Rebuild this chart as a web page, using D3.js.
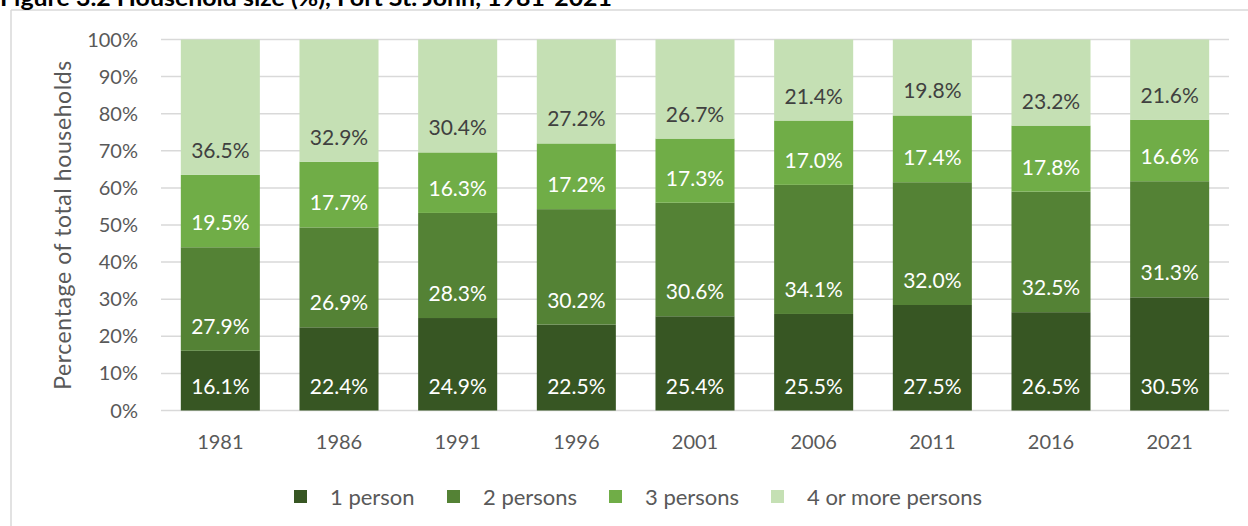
<!DOCTYPE html>
<html>
<head>
<meta charset="utf-8">
<script src="https://cdn.jsdelivr.net/npm/d3@7"></script>
<style>
  html, body { margin: 0; padding: 0; background: #fff; }
  svg { display: block; }
  text { font-family: Lato, "Open Sans", sans-serif; }
</style>
</head>
<body>
<svg id="chart" width="1248" height="526"></svg>
<script>
const title = "Figure 3.2 Household size (%), Fort St. John, 1981-2021";
const years = ["1981", "1986", "1991", "1996", "2001", "2006", "2011", "2016", "2021"];
const seriesNames = ["1 person", "2 persons", "3 persons", "4 or more persons"];
const onePerson    = [16.1, 22.4, 24.9, 22.5, 25.4, 25.5, 27.5, 26.5, 30.5];
const twoPersons   = [27.9, 26.9, 28.3, 30.2, 30.6, 34.1, 32.0, 32.5, 31.3];
const threePersons = [19.5, 17.7, 16.3, 17.2, 17.3, 17.0, 17.4, 17.8, 16.6];
const fourPlus     = [36.5, 32.9, 30.4, 27.2, 26.7, 21.4, 19.8, 23.2, 21.6];
const yTicks = [0, 0.1, 0.2, 0.3, 0.4, 0.5, 0.6, 0.7, 0.8, 0.9, 1.0];
const colors = ["#375623", "#548235", "#70AD47", "#C5E0B4"];
const labelColors = ["#ffffff", "#ffffff", "#ffffff", "#404040"];
const axisTitle = "Percentage of total households";

const svg = d3.select("#chart");
const W = 1248, H = 526;
const plot = { left: 161, right: 1229, top: 39.5, bottom: 410.5 };

const allSeries = [onePerson, twoPersons, threePersons, fourPlus];
const rows = years.map((y, i) => {
  const r = { year: y };
  seriesNames.forEach((s, k) => r[s] = allSeries[k][i]);
  return r;
});
const stacked = d3.stack().keys(seriesNames).offset(d3.stackOffsetExpand)(rows);

const gap = 0.334;
const x = d3.scaleBand().domain(years).range([plot.left, plot.right])
  .paddingInner(gap).paddingOuter(gap / 2);
const y = d3.scaleLinear().domain([0, 1]).range([plot.bottom, plot.top]);

// frame
svg.append("line").attr("x1", 11).attr("x2", 11).attr("y1", 10).attr("y2", H)
  .attr("stroke", "#d9d9d9").attr("stroke-width", 1.5);
svg.append("line").attr("x1", 11).attr("x2", W).attr("y1", 10).attr("y2", 10)
  .attr("stroke", "#d9d9d9").attr("stroke-width", 1.5);

// title (cropped at top, as in the reference)
svg.append("text").attr("x", 0).attr("y", 5.5)
  .attr("font-weight", "bold").attr("font-size", 22).attr("fill", "#000")
  .attr("textLength", 612).attr("lengthAdjust", "spacingAndGlyphs")
  .text(title);

// gridlines
svg.append("g").selectAll("line").data(yTicks).join("line")
  .attr("x1", plot.left).attr("x2", plot.right)
  .attr("y1", d => y(d)).attr("y2", d => y(d))
  .attr("stroke", "#d9d9d9").attr("stroke-width", 1.5);

// y tick labels
svg.append("g").selectAll("text").data(yTicks).join("text")
  .attr("x", 138).attr("y", d => y(d) + 7)
  .attr("text-anchor", "end").attr("font-size", 20).attr("fill", "#595959")
  .text(d => d3.format(".0%")(d));

// y axis title
svg.append("text")
  .attr("transform", `translate(71,${(57 + 393) / 2}) rotate(-90)`)
  .attr("text-anchor", "middle").attr("font-size", 23).attr("fill", "#595959")
  .attr("letter-spacing", 0.6)
  .text(axisTitle);

// bars
const layers = svg.append("g").selectAll("g").data(stacked).join("g")
  .attr("fill", (d, i) => colors[i]);
layers.selectAll("rect").data(d => d).join("rect")
  .attr("x", d => x(d.data.year))
  .attr("width", x.bandwidth())
  .attr("y", d => y(d[1]))
  .attr("height", d => y(d[0]) - y(d[1]));

// data labels (inside base)
const lab = svg.append("g").selectAll("g").data(stacked).join("g")
  .attr("fill", (d, i) => labelColors[i]);
lab.selectAll("text").data(d => d.map(v => ({ v, key: d.key }))).join("text")
  .attr("x", d => x(d.v.data.year) + x.bandwidth() / 2)
  .attr("y", d => y(d.v[0]) - 17)
  .attr("text-anchor", "middle").attr("font-size", 21)
  .text(d => d3.format(".1f")(d.v.data[d.key]) + "%");

// x labels
svg.append("g").selectAll("text").data(years).join("text")
  .attr("x", d => x(d) + x.bandwidth() / 2).attr("y", 448.5)
  .attr("text-anchor", "middle").attr("font-size", 20).attr("fill", "#595959")
  .text(d => d);

// legend
const legendX = [294, 447, 609, 771];
const leg = svg.append("g").selectAll("g").data(seriesNames).join("g")
  .attr("transform", (d, i) => `translate(${legendX[i]},490)`);
leg.append("rect").attr("width", 13).attr("height", 13).attr("fill", (d, i) => colors[i]);
leg.append("text").attr("x", 36).attr("y", 14.5).attr("font-size", 22).attr("fill", "#595959")
  .text(d => d);
</script>
</body>
</html>
